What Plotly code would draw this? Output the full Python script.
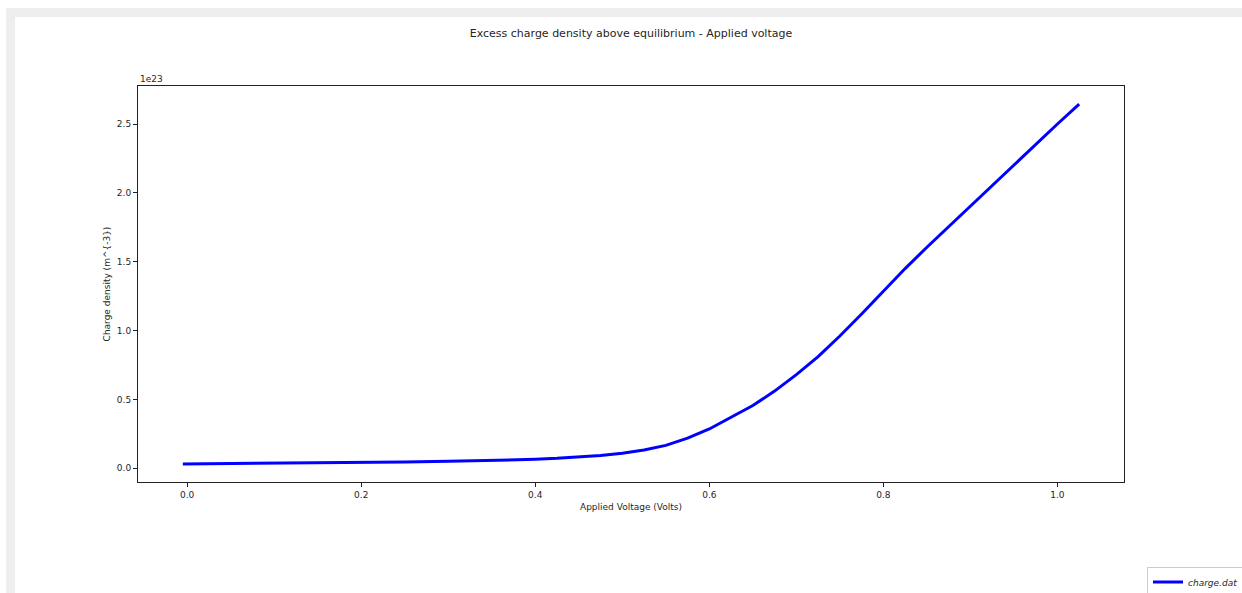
import plotly.graph_objects as go

# Data (charge density in units of 1e23 m^-3)
voltage = [-0.005, 0.05, 0.10, 0.15, 0.20, 0.25, 0.30, 0.35, 0.375, 0.40, 0.425, 0.45,
           0.475, 0.50, 0.525, 0.55, 0.575, 0.60, 0.625, 0.65, 0.675, 0.70,
           0.725, 0.75, 0.775, 0.80, 0.825, 0.85, 0.875, 0.90, 0.95, 1.00, 1.025]
charge_1e23 = [0.031, 0.033, 0.035, 0.038, 0.041, 0.045, 0.050, 0.056, 0.060, 0.065,
               0.072, 0.081, 0.093, 0.109, 0.132, 0.166, 0.218, 0.285, 0.368, 0.455,
               0.56, 0.68, 0.81, 0.96, 1.12, 1.285, 1.45, 1.605, 1.755, 1.905,
               2.20, 2.50, 2.645]
x_ticks = [0.0, 0.2, 0.4, 0.6, 0.8, 1.0]
y_ticks = [0.0, 0.5, 1.0, 1.5, 2.0, 2.5]

W, H = 1242, 593
L, R, T, B = 138, 1124, 86, 482

def px(x):
    return (x - L) / (R - L)

def py(y):
    return (B - y) / (B - T)

font = "DejaVu Sans, Arial, sans-serif"
txt = "#262626"

fig = go.Figure()
fig.add_trace(go.Scatter(
    x=voltage, y=charge_1e23, mode="lines",
    line=dict(color="#0000ff", width=3),
    name="<i>charge.dat</i>",
))

axis_common = dict(
    showgrid=False, zeroline=False, showline=True, linecolor="#222222", linewidth=1,
    mirror=True, ticks="outside", ticklen=4, tickwidth=1, tickcolor="#222222",
    tickfont=dict(family=font, size=9, color=txt),
    tickformat=".1f", automargin=False,
)

fig.update_layout(
    width=W, height=H, autosize=False,
    margin=dict(l=L, r=W - R, t=T, b=H - B, autoexpand=False),
    paper_bgcolor="white", plot_bgcolor="white",
    font=dict(family=font, color=txt),
    title=dict(text="Excess charge density above equilibrium - Applied voltage",
               x=0.5, xref="paper", xanchor="center",
               y=1 - 33 / H, yref="container", yanchor="middle",
               font=dict(family=font, size=11, color=txt)),
    xaxis=dict(range=[-0.0565, 1.0765], tickvals=x_ticks,
               title=dict(text="Applied Voltage (Volts)", standoff=4,
                          font=dict(family=font, size=9, color=txt)),
               **axis_common),
    yaxis=dict(range=[-0.1, 2.776], tickvals=y_ticks,
               title=dict(text="Charge density (m^{-3})", standoff=4,
                          font=dict(family=font, size=9, color=txt)),
               **axis_common),
    showlegend=True,
    legend=dict(x=1147 / W, y=1 - 582 / H, xref="container", yref="container",
                xanchor="left", yanchor="middle", itemwidth=30,
                bordercolor="#cccccc", borderwidth=1, bgcolor="white",
                font=dict(family=font, size=9, color=txt)),
    annotations=[dict(text="1e23", xref="paper", yref="paper", x=0, y=1,
                      xanchor="left", yanchor="bottom", showarrow=False,
                      font=dict(family=font, size=9, color=txt))],
    shapes=[
        dict(type="rect", xref="paper", yref="paper", layer="below",
             x0=px(6), x1=px(W + 5), y0=py(17), y1=py(8),
             fillcolor="#eeeeee", line=dict(width=0)),
        dict(type="rect", xref="paper", yref="paper", layer="below",
             x0=px(6), x1=px(15), y0=py(H + 5), y1=py(8),
             fillcolor="#eeeeee", line=dict(width=0)),
    ],
)

fig.write_html("out.html")
